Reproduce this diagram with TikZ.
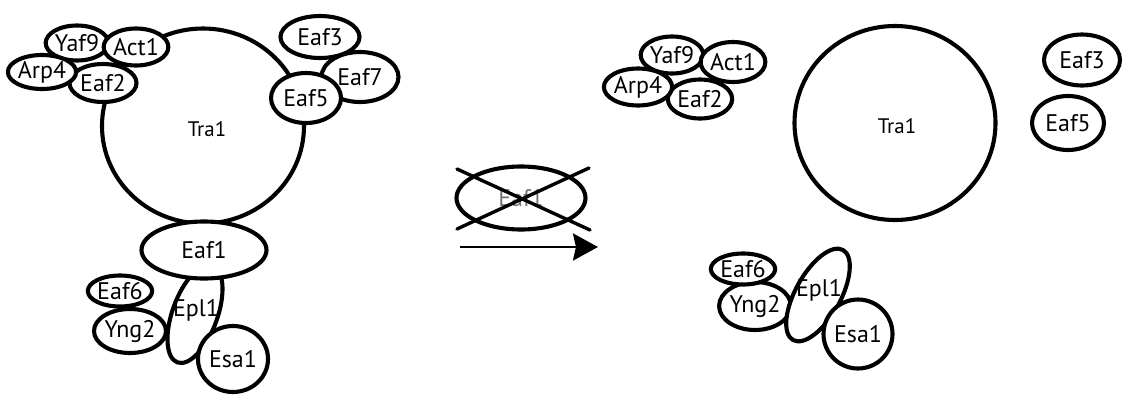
\documentclass[tikz,border=0pt]{standalone}
\usepackage{fontspec}
\setmainfont{PT Sans}
\usetikzlibrary{shapes.geometric,arrows.meta}
\tikzset{
  prot/.style 2 args={ellipse, draw, line width=4.1pt, fill=white, inner sep=0pt,
    minimum width=#1, minimum height=#2, font=\fontsize{24}{24}\selectfont},
  big/.style={font=\fontsize{21}{21}\selectfont},
  lbl/.style={inner sep=0pt, font=\fontsize{24}{24}\selectfont},
  cross/.style={line width=3.4pt, line cap=round},
  react/.style={line width=2.8pt, -{Stealth[length=25pt,width=27pt,inset=3pt]}},
}
\begin{document}
\begin{tikzpicture}[x=1pt,y=-1pt]
\useasboundingbox (0,0) rectangle (1127,394);

% ---- intact complex ----
\node[prot={202}{195}] (LTra) at (203,126) {};
\node[lbl, big] (LTraT) at (207,129) {Tra1};
\node[prot={59}{35}] (LYaf9) at (77,43) {Yaf9};
\node[prot={67}{38}] (LEaf2) at (103,83) {Eaf2};
\node[prot={62}{37}] (LAct1) at (136,47) {Act1};
\node[prot={66}{34}] (LArp4) at (42,72) {Arp4};
\node[prot={79}{42}] (LEaf3) at (320,37) {Eaf3};
\node[prot={77}{50}] (LEaf7) at (360,77) {Eaf7};
\node[prot={70}{50}] (LEaf5) at (306,98) {Eaf5};
\node[prot={72}{44}] (LYng2) at (130,331) {Yng2};
\node[prot={61}{31}] (LEaf6) at (120,291) {Eaf6};
\node[prot={103}{45}, rotate=70] (LEpl1) at (195,314) {};
\node[lbl] (LEpl1T) at (196,310) {Epl1};
\node[prot={125}{57}] (LEaf1) at (204,250) {Eaf1};
\node[prot={70}{66}] (LEsa1) at (233,359) {Esa1};

% ---- Eaf1 deletion ----
\node[prot={129}{63}, text=black!55] (DEaf1) at (521,198) {Eaf1};
\coordinate (c1) at (457,169);
\coordinate (c2) at (590,230);
\coordinate (c3) at (457,229);
\coordinate (c4) at (589,168);
\draw[cross] (c1) -- (c2);
\draw[cross] (c3) -- (c4);
\coordinate (arrS) at (460,247);
\coordinate (arrE) at (598,247);
\draw[react] (arrS) -- (arrE);

% ---- dissociated modules ----
\node[prot={201}{194}] (RTra) at (895,123) {};
\node[lbl, big] (RTraT) at (897,126) {Tra1};
\node[prot={56}{37}] (RYaf9) at (672,55) {Yaf9};
\node[prot={63}{39}] (REaf2) at (700,99) {Eaf2};
\node[prot={64}{40}] (RAct1) at (733,62) {Act1};
\node[prot={64}{37}] (RArp4) at (638,87) {Arp4};
\node[prot={76}{51}] (REaf3) at (1082,60) {Eaf3};
\node[prot={72}{54}] (REaf5) at (1068,123) {Eaf5};
\node[prot={71}{48}] (RYng2) at (755,306) {Yng2};
\node[prot={59}{31}] (REaf6) at (743,269) {Eaf6};
\node[prot={103}{45}, rotate=61] (REpl1) at (818,295) {};
\node[lbl] (REpl1T) at (819,290) {Epl1};
\node[prot={69}{69}] (REsa1) at (858,334) {Esa1};
\end{tikzpicture}
\end{document}
